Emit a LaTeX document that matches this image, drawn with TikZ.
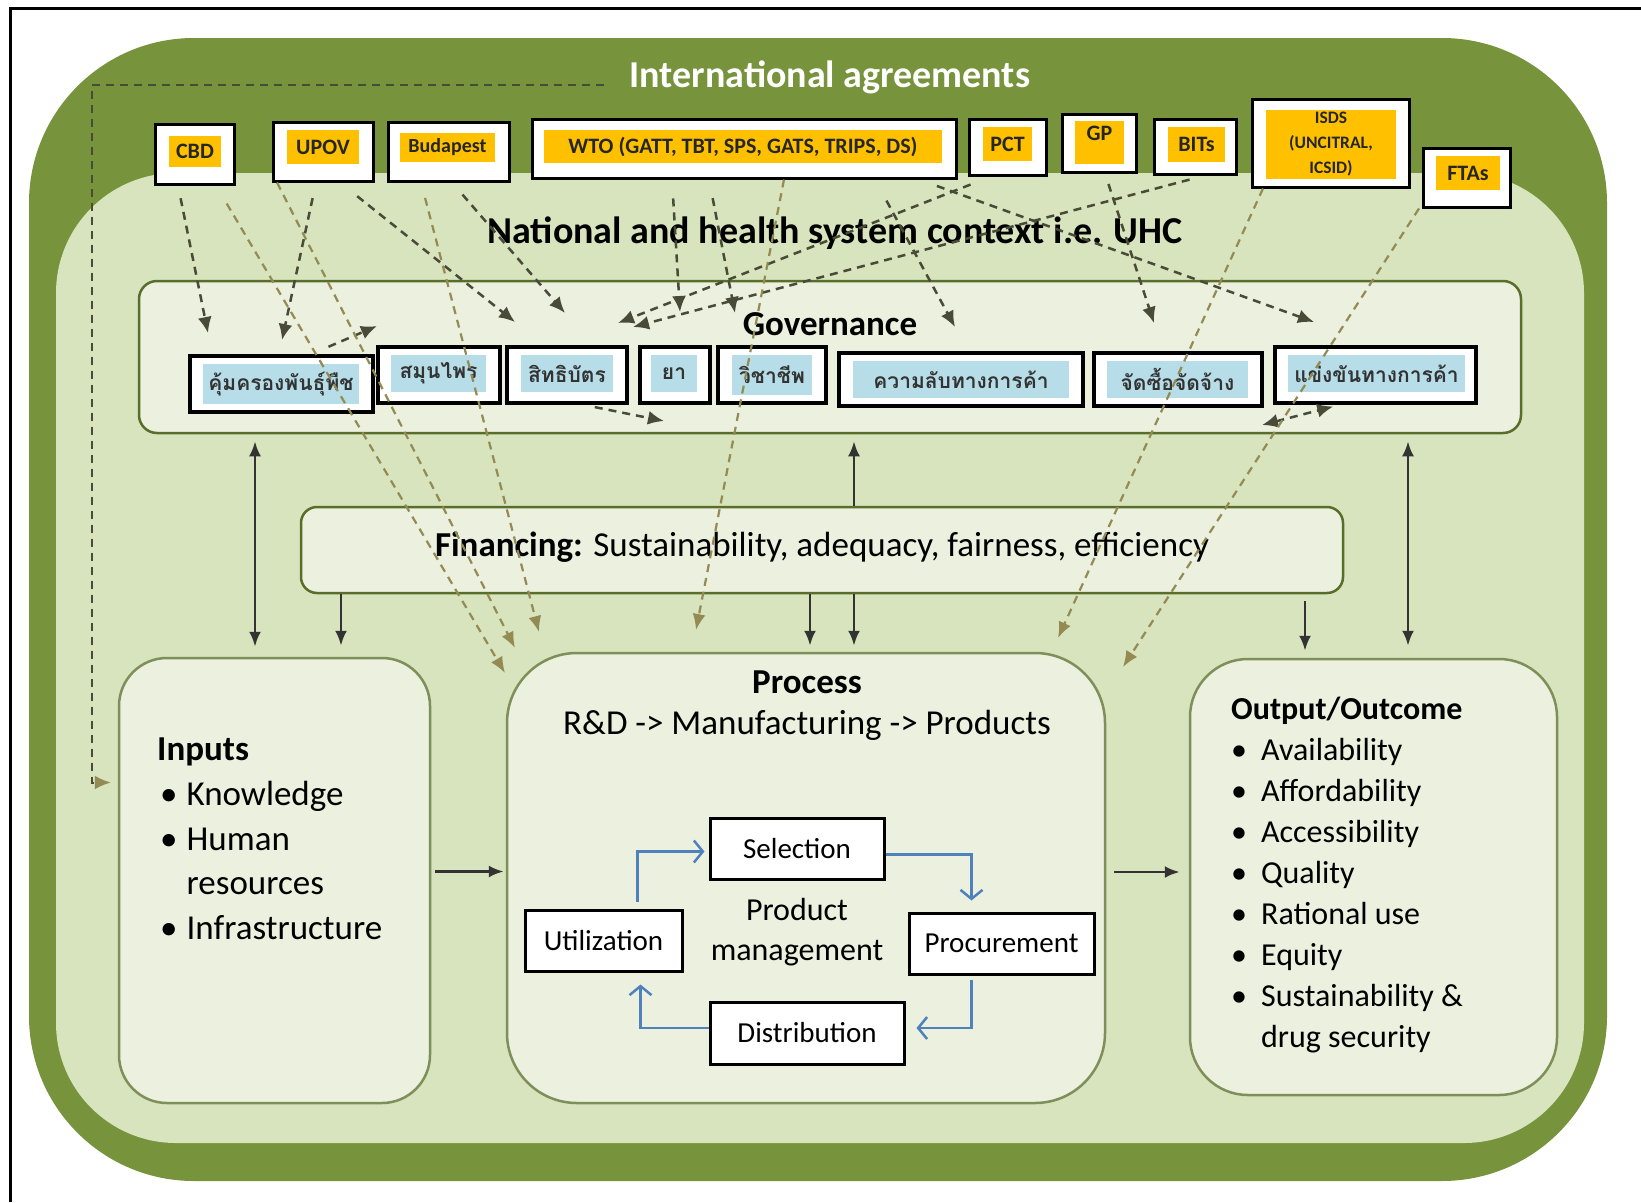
\documentclass[tikz,border=0pt]{standalone}
\usepackage{fontspec}
\setmainfont{Carlito}
\newfontfamily\thaifont[Script=Thai]{Loma}
\usetikzlibrary{arrows.meta, positioning}
\definecolor{outergreen}{HTML}{77933C}
\definecolor{innergreen}{HTML}{D7E4BD}
\definecolor{palegreen}{HTML}{EBF1DE}
\definecolor{boxline}{HTML}{5A6E2C}
\definecolor{softline}{HTML}{7F8F5A}
\definecolor{agyellow}{HTML}{FFC000}
\definecolor{thaiblue}{HTML}{B7DEE8}
\definecolor{tanline}{HTML}{948A54}
\definecolor{darkdash}{HTML}{4A4A38}
\definecolor{cycblue}{HTML}{4F81BD}
\definecolor{arrowgrey}{HTML}{333333}

\begin{document}
\begin{tikzpicture}[x=1pt, y=-1pt]
        \tikzstyle{agbox} = [draw=black, line width=3pt, fill=white, inner sep=0pt]
        \tikzstyle{agtag} = [fill=agyellow, inner sep=0pt, text=black!85, font=\bfseries\fontsize{22}{24}\selectfont]
        \tikzstyle{thbox} = [draw=black, line width=3.5pt, fill=white, inner sep=0pt]
        \tikzstyle{thtag} = [fill=thaiblue, inner sep=0pt, text=black!80, font=\thaifont\bfseries\fontsize{21}{24}\selectfont]
        \tikzstyle{panel} = [draw=boxline, line width=2.5pt, fill=palegreen, rounded corners=18pt, inner sep=0pt]
        \tikzstyle{bigbox} = [draw=softline, line width=2.5pt, fill=palegreen, inner sep=0pt]
        \tikzstyle{cycbox} = [draw=black, line width=3pt, fill=white, inner sep=0pt, font=\fontsize{29}{31}\selectfont]
        \tikzstyle{cyc} = [draw=cycblue, line width=2.5pt, -{Straight Barb[length=9pt,width=22pt]}]
        \tikzstyle{link} = [draw=arrowgrey, line width=2.8pt, -{Latex[length=15pt,width=12pt]}]
        \tikzstyle{both} = [draw=arrowgrey, line width=2.8pt, {Latex[length=15pt,width=12pt]}-{Latex[length=15pt,width=12pt]}]
        \tikzstyle{treaty} = [draw=darkdash, line width=2.5pt, dash pattern=on 8pt off 6pt, -{Latex[length=16pt,width=14pt]}]
        \tikzstyle{trade} = [draw=tanline, line width=2.2pt, dash pattern=on 8pt off 6pt, -{Latex[length=16pt,width=13pt]}]

        \fill[white] (0,0) rectangle (1641,1202);
        \useasboundingbox (0,0) rectangle (1641,1202);
        \draw[black, line width=3pt] (10,1202) -- (10,8) -- (1641,8);
        \fill[outergreen, rounded corners=165pt] (29,38) rectangle (1607,1181);
        \fill[innergreen, rounded corners=120pt] (56,173) rectangle (1584,1143);

        \node[text=white, font=\bfseries\fontsize{38}{40}\selectfont] (intl) at (830,77) {International agreements};

        \node[agbox, minimum width=79pt, minimum height=60pt] (cbd) at (194.5,154) {};
        \node[agtag, minimum width=52pt, minimum height=31pt] (cbdtag) at (195,151.5) {CBD};
        \node[agbox, minimum width=100pt, minimum height=59pt] (upov) at (323,151.5) {};
        \node[agtag, minimum width=72pt, minimum height=34pt] (upovtag) at (323,147) {UPOV};
        \node[agbox, minimum width=121pt, minimum height=59pt] (budapest) at (448.5,151.5) {};
        \node[agtag, minimum width=95pt, minimum height=29pt, font=\bfseries\fontsize{20}{22}\selectfont] (budapesttag) at (447.5,147.5) {Budapest};
        \node[agbox, minimum width=424pt, minimum height=59pt] (wto) at (744,148.5) {};
        \node[agtag, minimum width=398pt, minimum height=33pt] (wtotag) at (743,146.5) {WTO (GATT, TBT, SPS, GATS, TRIPS, DS)};
        \node[agbox, minimum width=77pt, minimum height=56pt] (pct) at (1007.5,147) {};
        \node[agtag, minimum width=49pt, minimum height=34pt] (pcttag) at (1007.5,144) {PCT};
        \node[agbox, minimum width=74pt, minimum height=58pt] (gp) at (1099,143) {};
        \node[agtag, minimum width=49pt, minimum height=43pt] (gptag) at (1099.5,142.5) {\raisebox{18pt}{GP}};
        \node[agbox, minimum width=82pt, minimum height=55pt] (bits) at (1195,146.5) {};
        \node[agtag, minimum width=57pt, minimum height=35pt] (bitstag) at (1196.5,144.5) {BITs};
        \node[agbox, minimum width=157pt, minimum height=88pt] (isds) at (1330.5,143) {};
        \node[agtag, minimum width=130pt, minimum height=69pt, align=center, font=\bfseries\fontsize{17.5}{25}\selectfont] (isdstag) at (1331,144.5) {ISDS\\(UNCITRAL,\\ICSID)};
        \node[agbox, minimum width=87pt, minimum height=59pt] (ftas) at (1466.5,177.5) {};
        \node[agtag, minimum width=64pt, minimum height=34pt] (ftastag) at (1468,173) {FTAs};

        \node[font=\bfseries\fontsize{38}{40}\selectfont] (context) at (835,233) {National and health system context i.e. UHC};

        \node[panel, minimum width=1382pt, minimum height=152pt] (gov) at (830,357) {};
        \node[font=\bfseries\fontsize{35}{38}\selectfont] (govtitle) at (830,324) {Governance};

        \node[thbox, minimum width=183pt, minimum height=56pt] (plant) at (281.5,384) {};
        \node[thtag, minimum width=156pt, minimum height=40pt] (planttag) at (281,384) {คุ้มครองพันธุ์พืช};
        \node[thbox, minimum width=122pt, minimum height=56pt] (herb) at (439,375) {};
        \node[thtag, minimum width=95pt, minimum height=37pt] (herbtag) at (438.5,373.5) {สมุนไพร};
        \node[thbox, minimum width=120pt, minimum height=56pt] (patent) at (567,375) {};
        \node[thtag, minimum width=92pt, minimum height=37pt] (patenttag) at (567,373.5) {สิทธิบัตร};
        \node[thbox, minimum width=70pt, minimum height=56pt] (drug) at (675,375) {};
        \node[thtag, minimum width=46pt, minimum height=37pt] (drugtag) at (674,373.5) {ยา};
        \node[thbox, minimum width=108pt, minimum height=56pt] (prof) at (772,375) {};
        \node[thtag, minimum width=80pt, minimum height=40pt] (proftag) at (772,375) {วิชาชีพ};
        \node[thbox, minimum width=244pt, minimum height=53pt] (secret) at (961,379.5) {};
        \node[thtag, minimum width=216pt, minimum height=37pt] (secrettag) at (961,379.5) {ความลับทางการค้า};
        \node[thbox, minimum width=168pt, minimum height=53pt] (procure) at (1178,379.5) {};
        \node[thtag, minimum width=141pt, minimum height=37pt] (procuretag) at (1177.5,379.5) {จัดซื้อจัดจ้าง};
        \node[thbox, minimum width=201pt, minimum height=56pt] (compete) at (1375.5,375) {};
        \node[thtag, minimum width=177pt, minimum height=37pt] (competetag) at (1376.5,373.5) {แข่งขันทางการค้า};

        \node[panel, rounded corners=16pt, minimum width=1042pt, minimum height=86pt] (fin) at (822,550) {};
        \node[font=\fontsize{35}{38}\selectfont] (fintext) at (822,547) {\textbf{Financing:} Sustainability, adequacy, fairness, efficiency};

        \node[bigbox, rounded corners=48pt, minimum width=311pt, minimum height=445pt] (inputs) at (274.5,880.5) {};
        \node[bigbox, rounded corners=70pt, minimum width=598pt, minimum height=450pt] (process) at (806,878) {};
        \node[bigbox, rounded corners=58pt, minimum width=367pt, minimum height=436pt] (output) at (1373.5,877) {};

        \node[anchor=north west, inner sep=0pt, font=\fontsize{35}{44.8}\selectfont] (inputlist) at (157,729) {%
          \begin{tabular}{@{\hspace{3pt}}l@{\hspace{9pt}}l@{}}
            \multicolumn{2}{@{}l}{\textbf{Inputs}}\\
            \textbullet & Knowledge\\
            \textbullet & Human\\
             & resources\\
            \textbullet & Infrastructure
          \end{tabular}};
        \node[anchor=north west, inner sep=0pt, font=\fontsize{32}{41}\selectfont] (outputlist) at (1231,691) {%
          \begin{tabular}{@{}l@{\hspace{14pt}}l@{}}
            \multicolumn{2}{@{}l}{\textbf{Output/Outcome}}\\
            \textbullet & Availability\\
            \textbullet & Affordability\\
            \textbullet & Accessibility\\
            \textbullet & Quality\\
            \textbullet & Rational use\\
            \textbullet & Equity\\
            \textbullet & Sustainability \&\\
             & drug security
          \end{tabular}};

        \node[font=\bfseries\fontsize{35}{38}\selectfont] (proctitle) at (807,682) {Process};
        \node[font=\fontsize{35}{38}\selectfont] (procchain) at (807,725) {R\&D -> Manufacturing -> Products};
        \node[align=center, font=\fontsize{32}{40}\selectfont] (pm) at (797,932) {Product\\management};

        \node[cycbox, minimum width=174pt, minimum height=61pt] (sel) at (797,848.5) {Selection};
        \node[cycbox, minimum width=157pt, minimum height=61pt] (util) at (603.5,940.5) {Utilization};
        \node[cycbox, minimum width=185pt, minimum height=61pt] (proc) at (1001.5,943.5) {Procurement};
        \node[cycbox, minimum width=194pt, minimum height=62pt] (dist) at (807,1033) {Distribution};

        \draw[cyc] ([yshift=-6pt]sel.east) -| ([xshift=-30pt,yshift=11pt]proc.north);
        \draw[cyc] ([xshift=-30pt,yshift=-4pt]proc.south) |- ([xshift=11pt,yshift=5pt]dist.east);
        \draw[cyc] ([yshift=5pt]dist.west) -| ([xshift=37pt,yshift=-12pt]util.south);
        \draw[cyc] ([xshift=34pt,yshift=7pt]util.north) |- ([xshift=-4pt,yshift=-3pt]sel.west);

        \draw[both, shorten <=10pt, shorten >=7pt] ([xshift=-19.5pt]inputs.north) -- ([xshift=-19.5pt]inputs.north |- gov.south);
        \draw[link, shorten >=11pt] ([xshift=66.5pt]inputs.north |- fin.south) -- ([xshift=66.5pt]inputs.north);
        \draw[link, shorten >=7pt] ([xshift=32pt]fin.north) -- ([xshift=32pt]fin.north |- gov.south);
        \draw[link, shorten >=6pt] ([xshift=4pt]process.north |- fin.south) -- ([xshift=4pt]process.north);
        \draw[link, shorten >=6pt] ([xshift=48pt]process.north |- fin.south) -- ([xshift=48pt]process.north);
        \draw[link, shorten <=7pt, shorten >=7pt] ([xshift=-68.5pt]output.north |- fin.south) -- ([xshift=-68.5pt]output.north);
        \draw[both, shorten <=12pt, shorten >=7pt] ([xshift=34.5pt]output.north) -- ([xshift=34.5pt]output.north |- gov.south);
        \draw[link, shorten <=4pt, shorten >=2pt] ([yshift=9pt]inputs.east) -- ([yshift=9pt]inputs.east -| process.west);
        \draw[link, shorten <=8pt, shorten >=9pt] ([yshift=6pt]process.east) -- ([yshift=6pt]process.east -| output.west);

        \coordinate (g1) at (208,333);
        \coordinate (g2) at (282,340);
        \coordinate (g3) at (515,322);
        \coordinate (g4) at (565,313);
        \coordinate (g5) at (680,312);
        \coordinate (g6) at (735,313);
        \coordinate (g7) at (955,327);
        \coordinate (g8) at (1314,322);
        \coordinate (g9) at (618,323);
        \coordinate (g10) at (633,327);
        \coordinate (g11) at (1154,323);
        \coordinate (g12) at (377,326);
        \coordinate (g13) at (664,421);
        \coordinate (g14) at (1262,425);
        \coordinate (p1) at (505,673);
        \coordinate (p2) at (515,648);
        \coordinate (p3) at (539,632);
        \coordinate (p4) at (696,630);
        \coordinate (p5) at (1058,638);
        \coordinate (p6) at (1123,667);

        \draw[treaty, shorten <=13pt] ([xshift=-16.5pt]cbd.south) -- (g1);
        \draw[treaty, shorten <=16pt] ([xshift=-7pt]upov.south) -- (g2);
        \draw[treaty, shorten <=22pt] ([xshift=17pt]upov.south) -- (g3);
        \draw[treaty, shorten <=16pt] ([xshift=3.5pt]budapest.south) -- (g4);
        \draw[treaty, shorten <=19pt] ([xshift=-72pt]wto.south) -- (g5);
        \draw[treaty, shorten <=19pt] ([xshift=-35pt]wto.south) -- (g6);
        \draw[treaty, shorten <=24pt] ([xshift=131pt]wto.south) -- (g7);
        \draw[treaty, shorten <=19pt] ([xshift=175pt]wto.south) -- (g8);
        \draw[treaty, shorten <=22pt] ([xshift=-16.5pt]pct.south) -- (g9);
        \draw[treaty, shorten <=16pt] ([xshift=10pt]bits.south) -- (g10);
        \draw[treaty, shorten <=11pt] ([xshift=6pt]gp.south) -- (g11);
        \draw[treaty, shorten <=19pt] ([xshift=29.5pt]plant.north) -- (g12);
        \draw[treaty, shorten <=12pt] ([xshift=16pt]patent.south) -- (g13);
        \draw[treaty, {Latex[length=16pt,width=14pt]}-{Latex[length=16pt,width=14pt]}, shorten >=7pt] (g14) -- ([xshift=-35.5pt]compete.south);

        \draw[trade, shorten <=21pt] ([xshift=21.5pt]cbd.south) -- (p1);
        \draw[trade] ([xshift=-46pt]upov.south) -- (p2);
        \draw[trade, shorten <=16pt] ([xshift=-27.5pt]budapest.south) -- (p3);
        \draw[trade] ([xshift=40pt]wto.south) -- (p4);
        \draw[trade] ([xshift=-67.5pt]isds.south) -- (p5);
        \draw[trade] ([xshift=-47.5pt]ftas.south) -- (p6);
        \draw[treaty, line width=2pt, -{Latex[length=16pt,width=14pt,color=tanline]}] ([xshift=-22pt,yshift=-8pt]intl.west) -| ([xshift=-26pt,yshift=98pt]inputs.west) -- ([xshift=-7pt,yshift=98pt]inputs.west);
\end{tikzpicture}
\end{document}
